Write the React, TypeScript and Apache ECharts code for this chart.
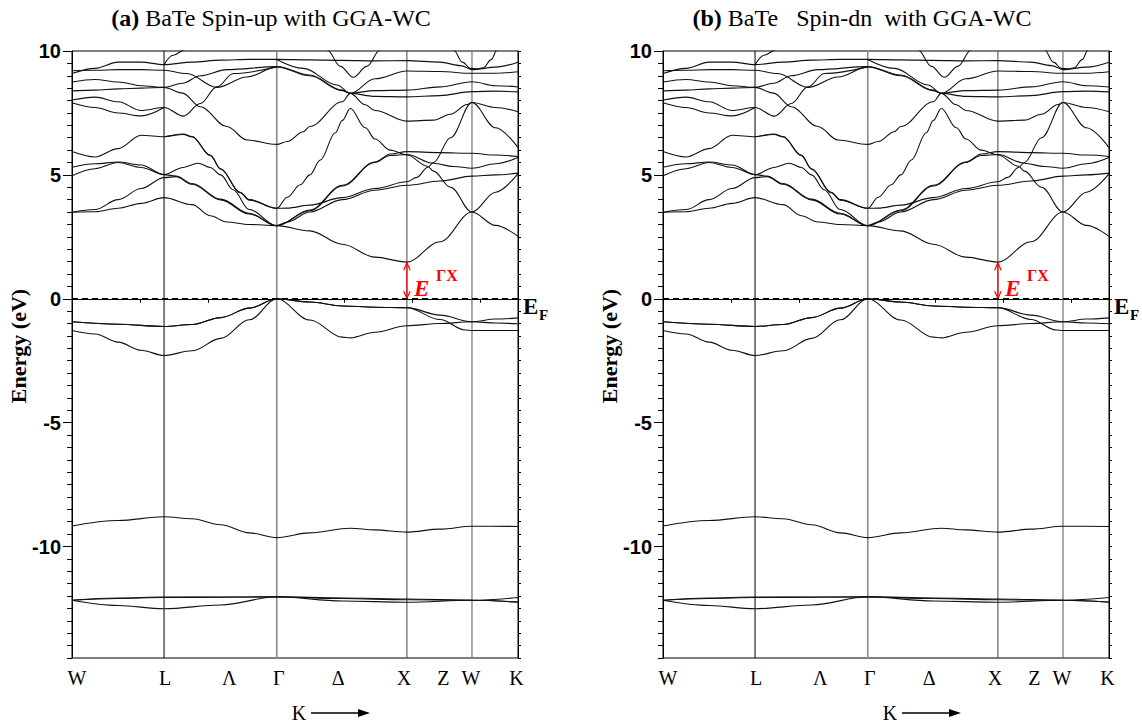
import React, { useEffect, useRef } from "react";
import * as echarts from "echarts";

// ---------- data ----------
// k-path positions (2π/a): W, L, Γ, X, W, K
const kSym = [0, 0.7071, 1.5731, 2.5731, 3.0731, 3.4267];
const kMax = 3.4267;
const kLabelPos = [0.038, 0.715, 1.208, 1.588, 2.046, 2.55, 2.854, 3.065, 3.415];
const kLabelNames = ["W", "L", "Λ", "Γ", "Δ", "X", "Z", "W", "K"];
const energyTicks = [-10, -5, 0, 5, 10];
const eMin = -14.5;
const eMax = 10;
const gapTopE = 1.45; // conduction band minimum at X

const bandBa5pA = [[0, -12.17], [0.354, -12.38], [0.707, -12.51], [1.142, -12.36], [1.573, -12.03], [2.077, -12.2], [2.573, -12.25], [3.073, -12.17], [3.427, -12.24]];
const bandBa5pB = [[0, -12.17], [0.354, -12.08], [0.707, -12.04], [1.142, -12.04], [1.573, -12.03], [2.077, -12.08], [2.573, -12.12], [3.073, -12.17], [3.427, -12.06]];
const bandBa5pC = [[0, -12.17], [0.354, -12.1], [0.707, -12.06], [1.142, -12.05], [1.573, -12.03], [2.077, -12.1], [2.573, -12.15], [3.073, -12.17], [3.427, -12.25]];
const bandTe5s = [[0, -9.17], [0.354, -8.95], [0.707, -8.8], [0.923, -8.88], [1.142, -9.12], [1.362, -9.45], [1.573, -9.64], [1.827, -9.45], [2.138, -9.26], [2.327, -9.33], [2.573, -9.42], [2.827, -9.3], [3.073, -9.18], [3.427, -9.19]];
const bandV1 = [[0, -0.93], [0.354, -1.03], [0.707, -1.12], [0.923, -1.04], [1.142, -0.76], [1.362, -0.38], [1.573, 0], [1.827, -0.13], [2.077, -0.29], [2.327, -0.34], [2.573, -0.36], [2.827, -0.66], [3.073, -0.93], [3.254, -0.98], [3.427, -1.01]];
const bandV2 = [[0, -0.93], [0.354, -1.03], [0.707, -1.12], [0.923, -1.04], [1.142, -0.76], [1.362, -0.38], [1.573, 0], [1.827, -0.13], [2.077, -0.29], [2.327, -0.34], [2.573, -0.36], [2.827, -0.84], [3.02, -1.26], [3.073, -1.28], [3.254, -1.28], [3.427, -1.28]];
const bandV3 = [[0, -1.28], [0.177, -1.42], [0.354, -1.75], [0.531, -2.08], [0.707, -2.29], [0.923, -2.1], [1.142, -1.6], [1.362, -0.85], [1.573, 0], [1.827, -0.86], [2.077, -1.55], [2.138, -1.58], [2.327, -1.35], [2.573, -1.09], [2.827, -1.0], [3.073, -0.93], [3.254, -0.82], [3.427, -0.77]];
const bandC1 = [[0, 3.49], [0.177, 3.51], [0.354, 3.65], [0.531, 3.85], [0.707, 4.08], [0.923, 3.8], [1.062, 3.35], [1.19, 3.1], [1.362, 3.0], [1.573, 2.95], [1.827, 2.74], [2.077, 2.2], [2.327, 1.68], [2.573, 1.48], [2.827, 2.3], [3.073, 3.5], [3.254, 2.96], [3.427, 2.52]];
const bandC2 = [[0, 3.49], [0.177, 3.6], [0.354, 4.0], [0.531, 4.45], [0.707, 4.89], [0.8, 4.93], [0.923, 4.62], [1.142, 3.99], [1.362, 3.42], [1.573, 2.95], [1.827, 3.55], [2.077, 4.55], [2.327, 5.5], [2.446, 5.84], [2.573, 5.94], [2.827, 5.9], [3.073, 5.87], [3.254, 5.8], [3.427, 5.74]];
const bandC3 = [[0, 4.96], [0.177, 5.25], [0.354, 5.5], [0.531, 5.3], [0.707, 5.01], [0.8, 4.95], [0.923, 4.65], [1.142, 4.02], [1.362, 3.45], [1.573, 2.95], [1.827, 3.58], [2.077, 4.58], [2.327, 5.52], [2.446, 5.78], [2.573, 5.82], [2.777, 5.47], [2.931, 5.34], [3.073, 5.27], [3.254, 5.45], [3.427, 5.7]];
const bandC4 = [[0, 5.31], [0.177, 5.45], [0.354, 5.52], [0.531, 5.4], [0.707, 5.01], [0.854, 5.3], [0.969, 5.47], [1.062, 5.3], [1.142, 5.0], [1.238, 4.4], [1.362, 3.6], [1.573, 2.95], [1.654, 3.1], [1.827, 3.5], [2.077, 4.0], [2.327, 4.38], [2.573, 4.58], [2.827, 4.75], [3.073, 4.95], [3.254, 5.0], [3.427, 5.07]];
const bandC5 = [[0, 5.94], [0.177, 5.72], [0.354, 6.06], [0.531, 6.6], [0.707, 6.54], [0.854, 6.65], [0.923, 6.55], [1.062, 5.8], [1.142, 5.25], [1.292, 4.3], [1.362, 4.0], [1.573, 3.65], [1.654, 4.1], [1.754, 4.6], [1.827, 5.0], [1.908, 5.6], [2.023, 6.7], [2.077, 7.2], [2.138, 7.68], [2.254, 6.9], [2.327, 6.45], [2.446, 6.0], [2.573, 5.8], [2.731, 5.35], [2.777, 5.15], [2.908, 4.5], [3.073, 3.5], [3.254, 4.3], [3.427, 5.05]];
const bandC6 = [[0.707, 6.54], [0.854, 6.63], [0.923, 6.53], [1.062, 5.78], [1.142, 5.23], [1.292, 4.28], [1.362, 3.98], [1.573, 3.65], [1.654, 3.66], [1.827, 3.78], [2.077, 4.08], [2.327, 4.45], [2.573, 4.72], [2.65, 4.9], [2.731, 5.3], [2.777, 5.5], [2.908, 6.5], [3.073, 7.92], [3.254, 6.9], [3.427, 6.1]];
const bandU1 = [[0, 9.09], [0.177, 9.3], [0.354, 9.55], [0.531, 9.55], [0.707, 9.45], [0.923, 9.55], [1.142, 9.63], [1.362, 9.66], [1.573, 9.66], [1.827, 9.64], [2.077, 9.62], [2.327, 9.6], [2.573, 9.61], [2.827, 9.55], [2.985, 9.41], [3.073, 9.25], [3.254, 9.35], [3.427, 9.55]];
const bandU2 = [[0, 9.2], [0.177, 9.22], [0.354, 9.25], [0.531, 9.25], [0.707, 9.22], [0.882, 9.09], [1.113, 8.53], [1.344, 8.95], [1.573, 9.36], [1.827, 9.0], [2.077, 8.4], [2.138, 8.3], [2.327, 8.4], [2.573, 8.42], [2.827, 8.55], [3.073, 8.76], [3.254, 8.6], [3.427, 8.55]];
const bandU3 = [[0, 8.75], [0.177, 8.85], [0.354, 8.75], [0.531, 8.6], [0.707, 8.53], [0.85, 8.3], [0.985, 7.75], [1.19, 6.95], [1.344, 6.41], [1.573, 6.23], [1.654, 6.35], [1.777, 6.74], [1.827, 6.95], [2.077, 7.95], [2.138, 8.29], [2.327, 8.88], [2.573, 9.19], [2.827, 9.17], [3.073, 9.1], [3.254, 9.1], [3.427, 9.16]];
const bandU4 = [[0, 8.39], [0.177, 8.42], [0.354, 8.47], [0.531, 8.5], [0.707, 8.53], [0.85, 8.7], [0.985, 9.0], [1.19, 9.25], [1.573, 9.37], [1.827, 9.03], [2.077, 8.42], [2.138, 8.29], [2.327, 8.17], [2.573, 8.15], [2.827, 8.2], [3.073, 8.36], [3.254, 8.38], [3.427, 8.35]];
const bandU5 = [[0, 8.02], [0.177, 8.14], [0.354, 7.95], [0.531, 7.6], [0.707, 7.72], [0.856, 7.37], [0.985, 7.88], [1.113, 8.55], [1.24, 9.09], [1.573, 9.36]];
const bandU6 = [[0, 7.91], [0.177, 7.72], [0.354, 7.5], [0.531, 7.38], [0.707, 7.72]];
const bandH = [[1.573, 9.66], [1.777, 9.3], [2.036, 8.63], [2.138, 8.29], [2.254, 7.83], [2.327, 7.6], [2.573, 7.17], [2.777, 7.21], [2.908, 7.45], [3.036, 7.84], [3.073, 7.92], [3.254, 7.72], [3.427, 7.55]];
const bandLGtop = [[0.707, 9.45], [0.777, 9.83], [0.869, 10.05], [0.95, 10.5]];
const bandDeltaTop = [[1.92, 10.4], [1.959, 10.05], [2.062, 9.38], [2.162, 8.94], [2.265, 9.38], [2.369, 10.05], [2.41, 10.4]];
const bandWTop = [[2.9, 10.4], [2.931, 10.05], [3.0, 9.55], [3.06, 9.3], [3.12, 9.28], [3.16, 9.32], [3.22, 9.65], [3.267, 10.05], [3.3, 10.4]];

const bands = [
  bandBa5pA, bandBa5pB, bandBa5pC, bandTe5s, bandV1, bandV2, bandV3,
  bandC1, bandC2, bandC3, bandC4, bandC5, bandC6,
  bandU1, bandU2, bandU3, bandU4, bandU5, bandU6, bandH,
  bandLGtop, bandDeltaTop, bandWTop,
];

const panelTitles = [
  { tag: "(a)", rest: " BaTe Spin-up with GGA-WC" },
  { tag: "(b)", rest: " BaTe   Spin-dn  with GGA-WC" },
];
const yAxisTitle = "Energy (eV)";

// ---------- layout / style ----------
const SERIF = '"Liberation Serif", "Times New Roman", serif';
const SANS = '"Liberation Sans", Arial, sans-serif';
const GRID_TOP = 51;
const GRID_H = 607;
const GRID_W = 446;
const PANEL_LEFT = [72, 663];
const symLineColor = ["#000", "#000000", "#8a8a8a", "#444", "#707070", "#000"];
const symLineWidth = [1, 1, 1.6, 1, 1.2, 1];

function buildOption() {
  const grid: any[] = [];
  const xAxis: any[] = [];
  const yAxis: any[] = [];
  const series: any[] = [];
  const graphic: any[] = [];

  PANEL_LEFT.forEach((left, g) => {
    grid.push({
      left, top: GRID_TOP, width: GRID_W, height: GRID_H,
      show: true, borderColor: "#000", borderWidth: 1, backgroundColor: "transparent",
    });
    xAxis.push({
      type: "value", gridIndex: g, min: 0, max: kMax, interval: 0.523, position: "bottom",
      axisLine: { show: true, lineStyle: { color: "#000", width: 1 } },
      axisTick: { show: true, length: 4, lineStyle: { color: "#000" } },
      axisLabel: { show: false }, splitLine: { show: false },
    });
    xAxis.push({
      type: "value", gridIndex: g, min: 0, max: kMax, position: "bottom",
      axisLine: { show: false }, axisTick: { show: false }, splitLine: { show: false },
      axisLabel: {
        show: true, customValues: kLabelPos, margin: 10, color: "#000",
        fontFamily: SERIF, fontSize: 20, showMinLabel: true, showMaxLabel: true,
        formatter: (v: number) => {
          const i = kLabelPos.findIndex((p) => Math.abs(p - v) < 1e-6);
          return i >= 0 ? kLabelNames[i] : "";
        },
      },
    });
    yAxis.push({
      type: "value", gridIndex: g, min: eMin, max: eMax, interval: 0.5, position: "left",
      axisLine: { show: true, lineStyle: { color: "#000", width: 1 } },
      axisTick: { show: true, length: 5, lineStyle: { color: "#000" } },
      axisLabel: { show: false }, splitLine: { show: false },
    });
    yAxis.push({
      type: "value", gridIndex: g, min: eMin, max: eMax, position: "left",
      axisLine: { show: false }, splitLine: { show: false },
      axisTick: { show: true, customValues: energyTicks, length: 9, lineStyle: { color: "#000", width: 1 } },
      axisLabel: {
        show: true, customValues: energyTicks, margin: 11, color: "#000",
        fontFamily: SANS, fontWeight: "bold", fontSize: 20,
      },
    });
    yAxis.push({
      type: "value", gridIndex: g, min: eMin, max: eMax, interval: 0.5, position: "right",
      axisLine: { show: true, lineStyle: { color: "#000", width: 1 } },
      axisTick: { show: true, length: 3, lineStyle: { color: "#000" } },
      axisLabel: { show: false }, splitLine: { show: false },
    });

    const xi = 2 * g;
    const yi = 3 * g;
    for (let s = 1; s < kSym.length - 1; s++) {
      series.push({
        type: "line", xAxisIndex: xi, yAxisIndex: yi, silent: true, symbol: "none",
        data: [[kSym[s], eMin], [kSym[s], eMax]],
        lineStyle: { color: symLineColor[s], width: symLineWidth[s] }, z: 1,
      });
    }
    bands.forEach((b) => {
      series.push({
        type: "line", xAxisIndex: xi, yAxisIndex: yi, silent: true, symbol: "none",
        showSymbol: false, smooth: 0.35, smoothMonotone: "x", clip: true, data: b,
        lineStyle: { color: "#111", width: 1.1 }, z: 3,
      });
    });
    series.push({
      type: "line", xAxisIndex: xi, yAxisIndex: yi, silent: true, symbol: "none",
      data: [[0, 0], [kMax, 0]],
      lineStyle: { color: "#000", width: 1.4, type: [6, 4] }, z: 4,
    });
    const kx = kSym[3];
    const red = { color: "#ff0000", width: 1.2 };
    series.push({
      type: "line", xAxisIndex: xi, yAxisIndex: yi, silent: true, symbol: "none",
      data: [[kx, 0.02], [kx, gapTopE]], lineStyle: red, z: 5,
    });
    series.push({
      type: "line", xAxisIndex: xi, yAxisIndex: yi, silent: true, symbol: "none",
      data: [[kx - 0.025, gapTopE - 0.3], [kx, gapTopE], [kx + 0.025, gapTopE - 0.3]], lineStyle: red, z: 5,
    });
    series.push({
      type: "line", xAxisIndex: xi, yAxisIndex: yi, silent: true, symbol: "none",
      data: [[kx - 0.025, 0.3], [kx, 0.02], [kx + 0.025, 0.3]], lineStyle: red, z: 5,
    });

    const dx = left - PANEL_LEFT[0];
    graphic.push({
      type: "text", x: 271 + dx, y: 18,
      style: {
        text: `{b|${panelTitles[g].tag}}{r|${panelTitles[g].rest}}`,
        rich: {
          b: { fontFamily: SERIF, fontWeight: "bold", fontSize: 24, fill: "#000", color: "#000" },
          r: { fontFamily: SERIF, fontSize: 24, fill: "#000", color: "#000" },
        },
        align: "center", verticalAlign: "middle", textAlign: "center", textVerticalAlign: "middle",
      },
    });
    graphic.push({
      type: "text", x: 18 + dx, y: 346, rotation: Math.PI / 2,
      style: {
        text: yAxisTitle, font: `bold 22px ${SERIF}`, fill: "#000",
        align: "center", verticalAlign: "middle", textAlign: "center", textVerticalAlign: "middle",
      },
    });
    graphic.push({
      type: "text", x: 523 + dx, y: 306,
      style: { text: "E", font: `bold 23px ${SERIF}`, fill: "#000", verticalAlign: "middle", textVerticalAlign: "middle" },
    });
    graphic.push({
      type: "text", x: 539 + dx, y: 315,
      style: { text: "F", font: `bold 15px ${SERIF}`, fill: "#000", verticalAlign: "middle", textVerticalAlign: "middle" },
    });
    graphic.push({
      type: "text", x: 414 + dx, y: 288,
      style: { text: "E", font: `italic bold 23px ${SERIF}`, fill: "#ff0000", verticalAlign: "middle", textVerticalAlign: "middle" },
    });
    graphic.push({
      type: "text", x: 436 + dx, y: 275,
      style: { text: "ΓX", font: `bold 16px ${SERIF}`, fill: "#ff0000", verticalAlign: "middle", textVerticalAlign: "middle" },
    });
    graphic.push({
      type: "text", x: 299 + dx, y: 713,
      style: { text: "K", font: `20px ${SERIF}`, fill: "#000", align: "center", textAlign: "center", verticalAlign: "middle", textVerticalAlign: "middle" },
    });
    graphic.push({
      type: "line", shape: { x1: 311 + dx, y1: 713, x2: 362 + dx, y2: 713 },
      style: { stroke: "#000", lineWidth: 1.3 },
    });
    graphic.push({
      type: "polygon", shape: { points: [[358 + dx, 709], [370 + dx, 713], [358 + dx, 717]] },
      style: { fill: "#000" },
    });
  });

  return { animation: false, backgroundColor: "#fff", grid, xAxis, yAxis, series, graphic };
}

export default function App() {
  const ref = useRef<HTMLDivElement>(null);
  useEffect(() => {
    if (!ref.current) return;
    const chart = echarts.init(ref.current, null, { renderer: "svg" });
    chart.setOption(buildOption());
    return () => chart.dispose();
  }, []);
  return (
    <div
      ref={ref}
      style={{ position: "fixed", left: 0, top: 0, width: 1142, height: 725, background: "#fff" }}
    />
  );
}
